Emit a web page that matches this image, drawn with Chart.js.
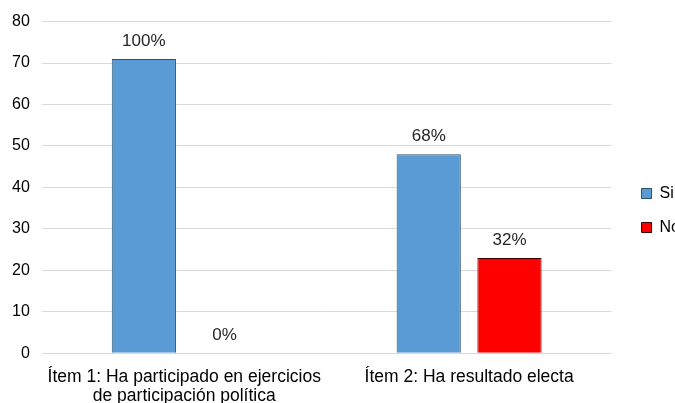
<!DOCTYPE html>
<html>
<head>
<meta charset="utf-8">
<script src="https://cdn.jsdelivr.net/npm/chart.js@4/dist/chart.umd.min.js"></script>
<style>
  html, body { margin: 0; padding: 0; background: #fff; overflow: hidden; }
  #wrap { width: 690px; height: 406px; }
</style>
</head>
<body>
<div id="wrap"><canvas id="c"></canvas></div>
<script>
// data
const categories = [
  ['Ítem 1: Ha participado en ejercicios', 'de participación política'],
  'Ítem 2: Ha resultado electa'
]
const siValues = [71, 48]
const noValues = [0, 23]
const siLabels = ['100%', '68%']
const noLabels = ['0%', '32%']
const yTicks = [0, 10, 20, 30, 40, 50, 60, 70, 80]

const font = 'Liberation Sans, Arial, sans-serif'

// percentage labels above each bar
const barLabels = {
  id: 'barLabels',
  afterDatasetsDraw(chart) {
    const ctx = chart.ctx
    const texts = [siLabels, noLabels]
    ctx.save()
    ctx.font = '17px ' + font
    ctx.fillStyle = '#262626'
    ctx.textAlign = 'center'
    ctx.textBaseline = 'bottom'
    chart.data.datasets.forEach((ds, i) => {
      chart.getDatasetMeta(i).data.forEach((bar, j) => {
        ctx.fillText(texts[i][j], bar.x, bar.y - 9)
      })
    })
    ctx.restore()
  }
}

new Chart(document.getElementById('c'), {
  type: 'bar',
  data: {
    labels: categories,
    datasets: [
      { label: 'Si', data: siValues, backgroundColor: '#5b9bd5', borderColor: '#2f4f6f', borderWidth: 1 },
      { label: 'No', data: noValues, backgroundColor: '#ff0000', borderColor: '#3a0000', borderWidth: 1 }
    ]
  },
  options: {
    responsive: true,
    maintainAspectRatio: false,
    animation: false,
    categoryPercentage: 0.567,
    barPercentage: 0.795,
    layout: { padding: { top: 9, left: 0, bottom: -6, right: 0 } },
    plugins: {
      tooltip: { enabled: false },
      legend: {
        position: 'right',
        labels: {
          boxWidth: 10, boxHeight: 10, padding: 18,
          color: '#000', font: { family: font, size: 16 }
        }
      }
    },
    scales: {
      x: {
        grid: { display: false },
        border: { display: false },
        ticks: { color: '#000', font: { family: font, size: 17.5, lineHeight: 1.05 }, maxRotation: 0, padding: 7 }
      },
      y: {
        min: 0, max: 80,
        afterBuildTicks: axis => { axis.ticks = yTicks.map(v => ({ value: v })) },
        grid: { color: '#d9d9d9', drawTicks: false },
        border: { display: false },
        ticks: { color: '#000', font: { family: font, size: 16 }, padding: 12 }
      },
      // empty spacer between plot and legend
      gap: {
        position: 'right', min: 0, max: 1,
        grid: { display: false }, border: { display: false },
        ticks: { display: false },
        afterFit: axis => { axis.width = 12 }
      }
    }
  },
  plugins: [barLabels]
})
</script>
</body>
</html>
